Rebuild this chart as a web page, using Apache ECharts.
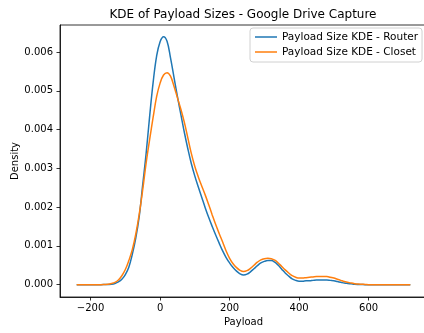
<!DOCTYPE html>
<html>
<head>
<meta charset="utf-8">
<script src="https://cdn.jsdelivr.net/npm/echarts@6/dist/echarts.min.js"></script>
<style>
  html, body { margin: 0; padding: 0; background: #fff; }
  #chart { width: 424px; height: 333px; }
</style>
</head>
<body>
<div id="chart"></div>
<script>
// Evaluation grid for the kernel density curves (payload size, bytes)
const payload = [
  -240, -230, -220, -210, -200, -190, -180, -170, -160, -150,
  -140, -130, -120, -110, -100, -90, -80, -70, -60, -50,
  -40, -30, -20, -10, 0, 10, 20, 30, 40, 50,
  60, 70, 80, 90, 100, 110, 120, 130, 140, 150,
  160, 170, 180, 190, 200, 210, 220, 230, 240, 250,
  260, 270, 280, 290, 300, 310, 320, 330, 340, 350,
  360, 370, 380, 390, 400, 410, 420, 430, 440, 450,
  460, 470, 480, 490, 500, 510, 520, 530, 540, 550,
  560, 570, 580, 590, 600, 610, 620, 630, 640, 650,
  660, 670, 680, 690, 700, 710, 720
];

// Density estimate at the router
const routerKde = [
  0, 0, 0, 0, 0, 0, 0, 0, 0.000002, 0.000005,
  0.00001, 0.00003, 0.00007, 0.00014, 0.00026, 0.00045, 0.00078, 0.00120, 0.00176, 0.00258,
  0.00340, 0.00435, 0.00522, 0.00590, 0.00627, 0.00640, 0.00628, 0.00585, 0.00535, 0.00485,
  0.00438, 0.00392, 0.00350, 0.00312, 0.00280, 0.00252, 0.00225, 0.00198, 0.00173, 0.00150,
  0.00128, 0.00107, 0.00087, 0.00070, 0.00056, 0.00044, 0.00035, 0.00028, 0.00025, 0.00027,
  0.00033, 0.00041, 0.00049, 0.00056, 0.00060, 0.00062, 0.00062, 0.00058, 0.00050, 0.00040,
  0.00030, 0.00022, 0.00015, 0.00011, 0.00009, 0.00009, 0.00010, 0.00010, 0.00011, 0.00012,
  0.00012, 0.00012, 0.00012, 0.00011, 0.00010, 0.00008, 0.00006, 0.00004, 0.00003, 0.00002,
  0.00001, 0.000005, 0.000002, 0, 0, 0, 0, 0, 0, 0,
  0, 0, 0, 0, 0, 0, 0
];

// Density estimate in the closet
const closetKde = [
  0, 0, 0, 0, 0, 0, 0, 0, 0.000004, 0.00001,
  0.00003, 0.00006, 0.00012, 0.00023, 0.00039, 0.00062, 0.00090, 0.00130, 0.00182, 0.00245,
  0.00315, 0.00375, 0.00432, 0.00485, 0.00520, 0.00541, 0.00547, 0.00538, 0.00512, 0.00482,
  0.00452, 0.00418, 0.00378, 0.00338, 0.00305, 0.00278, 0.00254, 0.00231, 0.00206, 0.00180,
  0.00155, 0.00132, 0.00110, 0.00087, 0.00068, 0.00054, 0.00044, 0.00037, 0.00034, 0.00036,
  0.00042, 0.00050, 0.00058, 0.00064, 0.00067, 0.00068, 0.00067, 0.00063, 0.00056, 0.00047,
  0.00038, 0.00030, 0.00023, 0.00019, 0.00017, 0.00017, 0.00018, 0.00019, 0.00020, 0.00021,
  0.00021, 0.00021, 0.00021, 0.00019, 0.00017, 0.00014, 0.00011, 0.00008, 0.00006, 0.00004,
  0.000025, 0.000015, 0.00001, 0.000005, 0, 0, 0, 0, 0, 0,
  0, 0, 0, 0, 0, 0, 0
];

const xTicks = [-200, 0, 200, 400, 600];
const yTicks = [0, 0.001, 0.002, 0.003, 0.004, 0.005, 0.006];

const seriesNames = ['Payload Size KDE - Router', 'Payload Size KDE - Closet'];
const seriesColors = ['#1f77b4', '#ff7f0e'];

const FONT = 'DejaVu Sans';

const chart = echarts.init(document.getElementById('chart'), null, { renderer: 'canvas' });

function lineSeries(name, values, color) {
  return {
    name: name,
    type: 'line',
    data: payload.map((x, i) => [x, values[i]]),
    smooth: 0.4,
    showSymbol: false,
    symbol: 'none',
    lineStyle: { color: color, width: 1.5 },
    itemStyle: { color: color },
    emphasis: { disabled: true },
    animation: false
  };
}

chart.setOption({
  animation: false,
  title: {
    text: 'KDE of Payload Sizes - Google Drive Capture',
    left: 243,
    top: 9,
    textAlign: 'center',
    padding: 0,
    textStyle: { fontFamily: FONT, fontSize: 12, fontWeight: 'normal', color: '#000' }
  },
  legend: {
    orient: 'vertical',
    left: 250,
    top: 28,
    data: seriesNames,
    icon: 'rect',
    itemWidth: 22,
    itemHeight: 1.5,
    itemGap: 3,
    padding: [3, 4, 4, 5],
    borderColor: '#d0d0d0',
    borderWidth: 1,
    borderRadius: 3,
    backgroundColor: 'rgba(255,255,255,0.8)',
    textStyle: { fontFamily: FONT, fontSize: 10.5, color: '#000', lineHeight: 12 }
  },
  grid: {
    left: 60,
    top: 25,
    right: -3,
    bottom: 36,
    show: true,
    borderColor: '#000',
    borderWidth: 0.8,
    containLabel: false,
    outerBoundsMode: 'none'
  },
  xAxis: {
    type: 'value',
    min: -288,
    max: 768,
    name: 'Payload',
    nameLocation: 'middle',
    nameGap: 20,
    nameMoveOverlap: false,
    nameTextStyle: { fontFamily: FONT, fontSize: 10, color: '#000' },
    axisLine: { onZero: false, lineStyle: { color: '#000', width: 0.8 } },
    axisTick: { customValues: xTicks, length: 3.5, lineStyle: { color: '#000', width: 0.8 } },
    axisLabel: {
      customValues: xTicks,
      margin: 6,
      fontFamily: FONT,
      fontSize: 10,
      color: '#000',
      formatter: v => (v < 0 ? '\u2212' + Math.abs(v) : String(v))
    },
    splitLine: { show: false }
  },
  yAxis: {
    type: 'value',
    min: -0.000319,
    max: 0.0067,
    name: 'Density',
    nameLocation: 'middle',
    nameRotate: 90,
    nameGap: 40,
    nameMoveOverlap: false,
    nameTextStyle: { fontFamily: FONT, fontSize: 10, color: '#000' },
    axisLine: { show: true, onZero: false, lineStyle: { color: '#000', width: 0.8 } },
    axisTick: { show: true, customValues: yTicks, length: 3.5, lineStyle: { color: '#000', width: 0.8 } },
    axisLabel: {
      customValues: yTicks,
      margin: 7,
      fontFamily: FONT,
      fontSize: 10,
      color: '#000',
      formatter: v => v.toFixed(3)
    },
    splitLine: { show: false }
  },
  series: [
    lineSeries(seriesNames[0], routerKde, seriesColors[0]),
    lineSeries(seriesNames[1], closetKde, seriesColors[1])
  ]
});
</script>
</body>
</html>
